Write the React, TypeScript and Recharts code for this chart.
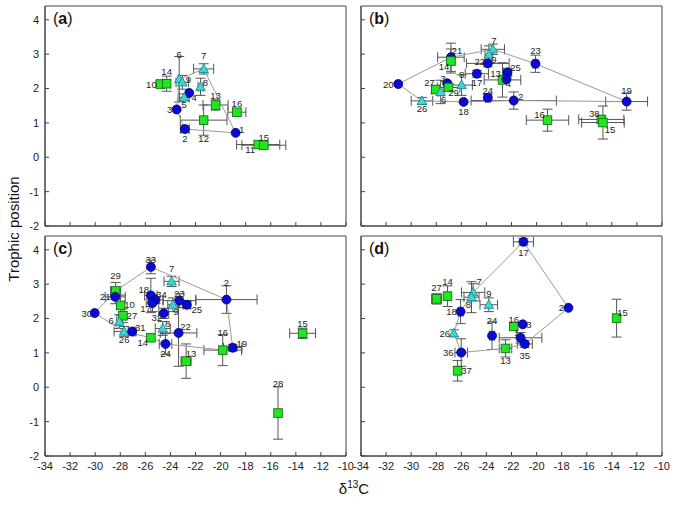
import { ScatterChart, Scatter, XAxis, YAxis, ErrorBar, ReferenceArea } from 'recharts';

const xTicks = [-34, -32, -30, -28, -26, -24, -22, -20, -18, -16, -14, -12, -10];
const yTicks = [-2, -1, 0, 1, 2, 3, 4];

// panel (a)
const aIds = [1, 2, 3, 4, 5, 6, 7, 8, 9, 10, 11, 12, 13, 14, 15, 16];
const aKind = ['c', 'c', 'c', 'c', 't', 't', 't', 't', 't', 's', 's', 's', 's', 's', 's', 's'];
const aX = [-18.8, -22.85, -23.5, -22.5, -22.9, -23.3, -21.35, -21.6, -23.05, -24.8, -17.0, -21.35, -20.4, -24.3, -16.55, -18.7];
const aY = [0.71, 0.82, 1.39, 1.87, 1.74, 2.27, 2.57, 2.05, 2.18, 2.13, 0.37, 1.08, 1.52, 2.14, 0.35, 1.31];
const aXErr = [0, 0.35, 0, 0, 0.4, 0, 0.8, 0.2, 0.5, 0.3, 1.72, 1.86, 1.0, 0.3, 1.75, 0.72];
const aYErr = [0, 0.1, 0, 0, 0.1, 0.66, 0.15, 0.25, 0.2, 0.1, 0, 0.44, 0.15, 0.22, 0, 0.1];
const aHull = [7, 1, 2, 3, 6];

// panel (b)
const bIds = [20, 21, 14, 7, 9, 22, 17, 8, 25, 13, 4, 3, 27, 29, 6, 26, 18, 24, 2, 23, 19, 16, 38, 15];
const bKind = ['c', 'c', 's', 't', 't', 'c', 'c', 't', 'c', 's', 'c', 'c', 's', 's', 't', 't', 'c', 'c', 'c', 'c', 'c', 's', 's', 's'];
const bX = [-31.03, -26.83, -26.83, -23.49, -23.81, -23.89, -24.76, -25.98, -22.32, -22.72, -22.4, -27.13, -28.05, -27.02, -27.65, -29.14, -25.82, -23.89, -21.82, -20.09, -12.82, -19.13, -14.84, -14.71];
const bY = [2.13, 2.91, 2.8, 3.14, 2.99, 2.73, 2.43, 2.1, 2.47, 2.25, 2.27, 2.15, 1.97, 2.03, 1.9, 1.64, 1.61, 1.73, 1.65, 2.72, 1.62, 1.08, 1.1, 1.01];
const bXErr = [0, 1.06, 0.3, 0.93, 0.3, 1.7, 0.93, 0.86, 0.3, 1.46, 0, 0, 0.3, 0.9, 0.2, 0.86, 0, 0.2, 3.4, 0.2, 1.67, 1.69, 1.8, 1.7];
const bYErr = [0, 0.41, 0.35, 0.15, 0.25, 0.1, 0.1, 0.3, 0.1, 0.5, 0, 0, 0.1, 0.1, 0.34, 0.1, 0, 0.1, 0.25, 0.25, 0.25, 0.32, 0.1, 0.48];
const bHull = [20, 21, 7, 23, 19, 2, 18, 26];

// panel (c)
const cIds = [33, 7, 29, 21, 18, 34, 17, 23, 25, 9, 10, 27, 30, 6, 32, 8, 26, 31, 22, 14, 24, 13, 16, 19, 2, 15, 28];
const cKind = ['c', 't', 's', 'c', 'c', 'c', 'c', 'c', 'c', 't', 's', 's', 'c', 't', 'c', 't', 't', 'c', 'c', 's', 'c', 's', 's', 'c', 'c', 's', 's'];
const cX = [-25.56, -23.91, -28.37, -28.4, -25.56, -25.19, -25.43, -23.28, -22.69, -23.81, -27.97, -27.79, -30.04, -28.08, -24.53, -24.61, -27.69, -27.05, -23.35, -25.56, -24.39, -22.75, -19.83, -19.03, -19.53, -13.46, -15.42];
const cY = [3.5, 3.08, 2.8, 2.63, 2.67, 2.54, 2.45, 2.52, 2.4, 2.4, 2.38, 2.08, 2.16, 1.91, 2.15, 1.71, 1.62, 1.62, 1.58, 1.44, 1.26, 0.76, 1.08, 1.15, 2.55, 1.57, -0.75];
const cXErr = [0, 0.6, 0.4, 0.8, 0.5, 0.6, 0.5, 1.3, 0.3, 0.4, 0.3, 0.2, 0, 0.2, 0.4, 0.6, 0.8, 0.3, 1.46, 0, 0.5, 0.4, 1.5, 0.74, 2.44, 1.03, 0];
const cYErr = [0.2, 0.15, 0.25, 0.2, 0.5, 0.1, 0.25, 0.2, 0.1, 0.2, 0.3, 0.2, 0, 0.2, 0.15, 0.2, 0.15, 0.1, 0.97, 0, 0.3, 0.5, 0.45, 0.1, 0.4, 0.15, 0.76];
const cHull = [30, 29, 33, 2, 19, 16, 24, 14, 26];

// panel (d)
const dIds = [27, 14, 7, 8, 9, 18, 26, 24, 16, 3, 1, 35, 13, 36, 37, 2, 15, 17];
const dKind = ['s', 's', 't', 't', 't', 'c', 't', 'c', 's', 'c', 'c', 'c', 's', 'c', 's', 'c', 's', 'c'];
const dX = [-27.97, -27.1, -25.06, -25.19, -23.81, -26.06, -26.6, -23.55, -21.82, -21.1, -21.28, -20.94, -22.48, -26.01, -26.3, -17.46, -13.62, -21.05];
const dY = [2.57, 2.65, 2.76, 2.62, 2.4, 2.2, 1.57, 1.5, 1.77, 1.83, 1.44, 1.26, 1.13, 1.01, 0.48, 2.31, 2.01, 4.23];
const dXErr = [0.4, 0.2, 0.93, 0.6, 0.7, 0.2, 0, 0.2, 0, 0, 1.7, 0.6, 0.5, 0.5, 0.2, 0, 0.2, 0.8];
const dYErr = [0.15, 0.3, 0.25, 0.45, 0.2, 0.35, 0.1, 0.4, 0, 0, 0.15, 0.1, 0.25, 0.4, 0.3, 0, 0.55, 0.1];
const dHull = [17, 2, 35, 13, 36, 26, 18, 7];

// label offsets (px from marker centre)
const aLab: Record<number, number[]> = {
  1: [6, -3], 2: [0, 9], 3: [-7, 0], 4: [5, 5], 5: [0, 7], 6: [0, -25], 7: [0, -13], 8: [5, -4],
  9: [6, -3], 10: [-9, 0], 11: [-8, 5], 12: [0, 18], 13: [0, -10], 14: [0, -12], 15: [0, -8], 16: [0, -9],
};
const bLab: Record<number, number[]> = {
  20: [-10, 0], 21: [6, -7], 14: [-7, 5], 7: [1, -9], 9: [5, 5], 22: [-8, -2], 17: [0, 9], 8: [0, -11],
  25: [8, -5], 13: [-7, -6], 4: [2, 4], 3: [-4, -5], 27: [-6, -7], 29: [5, 5], 6: [3, 8], 26: [0, 8],
  18: [0, 10], 24: [0, -7], 2: [7, -4], 23: [0, -13], 19: [0, -11], 16: [-8, -6], 38: [-7, -6], 15: [7, 7],
};
const cLab: Record<number, number[]> = {
  33: [0, -7], 7: [0, -13], 29: [0, -16], 21: [-10, 0], 18: [-7, -6], 34: [6, -5], 17: [-7, 5], 23: [0, -7],
  25: [10, 5], 9: [3, 7], 10: [9, -1], 27: [9, 0], 30: [-8, 0], 6: [-8, -1], 32: [-7, 4], 8: [5, -5],
  26: [0, 8], 31: [8, -4], 22: [7, -6], 14: [-8, 5], 24: [0, 10], 13: [5, -8], 16: [0, -18], 19: [9, -4],
  2: [0, -17], 15: [0, -10], 28: [0, -30],
};
const dLab: Record<number, number[]> = {
  27: [0, -11], 14: [0, -15], 7: [6, -11], 8: [-3, 7], 9: [0, -11], 18: [-9, 0], 26: [-9, 0], 24: [0, -15],
  16: [0, -7], 3: [6, 0], 1: [-4, -5], 35: [0, 12], 13: [0, 12], 36: [-13, 0], 37: [9, 0], 2: [-7, 0],
  15: [6, -6], 17: [0, 11],
};

const FONT = '"Liberation Sans", Arial, sans-serif';
const PLOT_W = 301;
const PLOT_H = 220;
const Y_W = 35;
const X_H = 30;
const M_TOP = 10;
const M_RIGHT = 10;

function buildRows(ids: number[], kind: string[], xs: number[], ys: number[], ex: number[], ey: number[]) {
  return ids.map((id, i) => ({ id, kind: kind[i], x: xs[i], y: ys[i], ex: ex[i], ey: ey[i] }));
}

function buildHull(rows: any[], order: number[]) {
  const pts = order.map((id) => {
    const r = rows.find((d) => d.id === id);
    return { x: r.x, y: r.y };
  });
  return [...pts, pts[0]];
}

function Marker(props: any) {
  const { cx, cy, payload, offsets } = props;
  if (cx == null || cy == null) return <g />;
  const off = offsets[payload.id] || [0, -9];
  let mark;
  if (payload.kind === 'c') {
    mark = <circle cx={cx} cy={cy} r={4.5} fill="#0a0ad2" stroke="#00006a" strokeWidth={0.8} />;
  } else if (payload.kind === 't') {
    mark = (
      <polygon
        points={`${cx},${cy - 5} ${cx - 4.8},${cy + 3.6} ${cx + 4.8},${cy + 3.6}`}
        fill="#40d4d4"
        stroke="#16807f"
        strokeWidth={0.8}
      />
    );
  } else {
    mark = <rect x={cx - 4.3} y={cy - 4.3} width={8.6} height={8.6} fill="#22e622" stroke="#086808" strokeWidth={0.8} />;
  }
  return (
    <g>
      {mark}
      <text
        x={cx + off[0]}
        y={cy + off[1]}
        fontSize={9.5}
        fontFamily={FONT}
        fill="#222"
        textAnchor="middle"
        dominantBaseline="central"
      >
        {payload.id}
      </text>
    </g>
  );
}

interface PanelProps {
  rows: any[];
  hull: any[];
  labels: Record<number, number[]>;
  showX: boolean;
  showY: boolean;
}

function Panel({ rows, hull, labels, showX, showY }: PanelProps) {
  return (
    <ScatterChart
      width={Y_W + PLOT_W + M_RIGHT}
      height={M_TOP + PLOT_H + X_H}
      margin={{ top: M_TOP, right: M_RIGHT, bottom: 0, left: 0 }}
    >
      <XAxis
        type="number"
        dataKey="x"
        domain={[-34, -10]}
        ticks={xTicks}
        allowDataOverflow
        height={X_H}
        tickSize={-4}
        tickMargin={10}
        tickFormatter={(v: number) => (showX ? String(v) : '')}
        tick={{ fontSize: 11, fill: '#222', fontFamily: FONT }}
        stroke="#444"
      />
      <YAxis
        type="number"
        dataKey="y"
        domain={[-2, 4.4]}
        ticks={yTicks}
        allowDataOverflow
        width={Y_W}
        tickSize={-4}
        tickMargin={10}
        tickFormatter={(v: number) => (showY ? String(v) : '')}
        tick={{ fontSize: 11, fill: '#222', fontFamily: FONT }}
        stroke="#444"
      />
      <ReferenceArea x1={-34} x2={-10} y1={-2} y2={4.4} fill="none" stroke="#444" strokeWidth={1} />
      <Scatter
        data={hull}
        line={{ stroke: '#9a9a9a', strokeWidth: 1 }}
        lineType="joint"
        shape={() => <g />}
        isAnimationActive={false}
      />
      <Scatter
        data={rows}
        isAnimationActive={false}
        shape={(p: any) => <Marker {...p} offsets={labels} />}
      >
        <ErrorBar dataKey="ex" direction="x" width={5} stroke="#555" strokeWidth={1} isAnimationActive={false} />
        <ErrorBar dataKey="ey" direction="y" width={5} stroke="#555" strokeWidth={1} isAnimationActive={false} />
      </Scatter>
    </ScatterChart>
  );
}

const aRows = buildRows(aIds, aKind, aX, aY, aXErr, aYErr);
const bRows = buildRows(bIds, bKind, bX, bY, bXErr, bYErr);
const cRows = buildRows(cIds, cKind, cX, cY, cXErr, cYErr);
const dRows = buildRows(dIds, dKind, dX, dY, dXErr, dYErr);

const LEFT_X = 45;
const RIGHT_X = 361;
const TOP_Y = 6;
const BOTTOM_Y = 236;

function PanelLetter({ x, y, letter }: { x: number; y: number; letter: string }) {
  return (
    <text x={x + 8} y={y + 18} fontSize={16} fontFamily={FONT} fill="#111">
      (<tspan fontWeight="bold">{letter}</tspan>)
    </text>
  );
}

export default function App() {
  const place = (x: number, y: number) => ({
    position: 'absolute' as const,
    left: x - Y_W,
    top: y - M_TOP,
  });
  return (
    <div style={{ position: 'absolute', left: 0, top: 0, width: 675, height: 506, background: '#fff', overflow: 'hidden' }}>
      <div style={place(LEFT_X, TOP_Y)}>
        <Panel rows={aRows} hull={buildHull(aRows, aHull)} labels={aLab} showX={false} showY />
      </div>
      <div style={place(RIGHT_X, TOP_Y)}>
        <Panel rows={bRows} hull={buildHull(bRows, bHull)} labels={bLab} showX={false} showY={false} />
      </div>
      <div style={place(LEFT_X, BOTTOM_Y)}>
        <Panel rows={cRows} hull={buildHull(cRows, cHull)} labels={cLab} showX showY />
      </div>
      <div style={place(RIGHT_X, BOTTOM_Y)}>
        <Panel rows={dRows} hull={buildHull(dRows, dHull)} labels={dLab} showX showY={false} />
      </div>
      <svg width={675} height={506} style={{ position: 'absolute', left: 0, top: 0, pointerEvents: 'none' }}>
        <PanelLetter x={LEFT_X} y={TOP_Y} letter="a" />
        <PanelLetter x={RIGHT_X} y={TOP_Y} letter="b" />
        <PanelLetter x={LEFT_X} y={BOTTOM_Y} letter="c" />
        <PanelLetter x={RIGHT_X} y={BOTTOM_Y} letter="d" />
        <text
          x={13}
          y={229}
          transform="rotate(-90 13 229)"
          fontSize={15}
          fontFamily={FONT}
          fill="#111"
          textAnchor="middle"
          dominantBaseline="central"
        >
          Trophic position
        </text>
        <text x={354} y={494} fontSize={15} fontFamily={FONT} fill="#111" textAnchor="middle">
          δ<tspan dy={-6} fontSize={10}>13</tspan>
          <tspan dy={6}>C</tspan>
        </text>
      </svg>
    </div>
  );
}
